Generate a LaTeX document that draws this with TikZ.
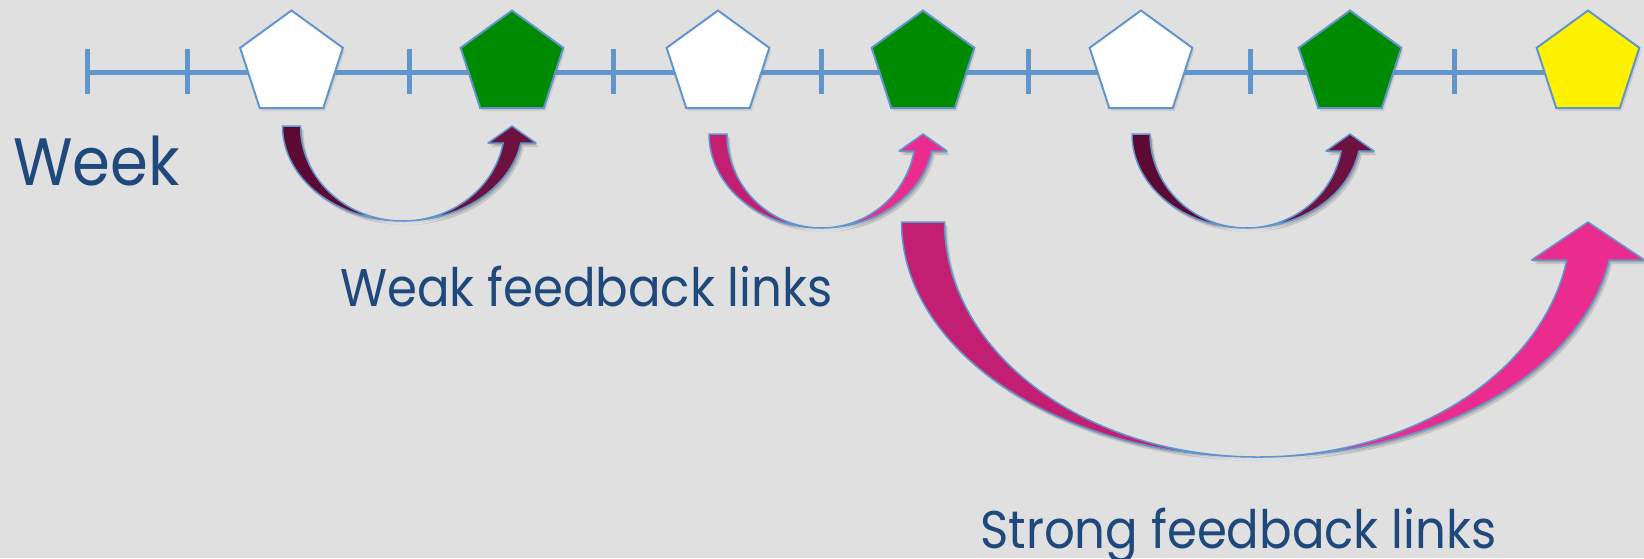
\documentclass[tikz,border=0pt]{standalone}
\usepackage{fontspec}
\setmainfont{Poppins}[FakeStretch=0.91]
\usetikzlibrary{shapes.geometric,backgrounds,shadows}

\definecolor{bg}{RGB}{224,224,224}
\definecolor{tline}{RGB}{96,150,204}
\definecolor{ink}{RGB}{31,73,125}
\definecolor{leaf}{RGB}{0,138,0}
\definecolor{maroonA}{RGB}{92,10,51}
\definecolor{maroonB}{RGB}{109,17,65}
\definecolor{pinkA}{RGB}{195,31,114}
\definecolor{pinkB}{RGB}{235,44,143}

% curved block arrow under the line, from node #1 to node #2
% #3 top, #4 bottom, #5 shaft, #6 head width, #7 head height, #8/#9 fills
\newdimen\fbxa
\newdimen\fbxb
\newcommand\feedback[9]{%
  \pgfextractx{\fbxa}{\pgfpointanchor{#1}{center}}%
  \pgfextractx{\fbxb}{\pgfpointanchor{#2}{center}}%
  \pgfmathsetmacro\fbA{\fbxa}%
  \pgfmathsetmacro\fbB{\fbxb}%
  \pgfmathsetmacro\fbry{#4-#3}%
  \pgfmathsetmacro\fbend{360-asin(#7/\fbry)}%
  \pgfmathsetmacro\fbrm{(\fbB-\fbA)/(1+cos(\fbend))}%
  \pgfmathsetmacro\fbxc{\fbA+\fbrm}%
  \pgfmathsetmacro\fbro{\fbrm+#5/2}%
  \pgfmathsetmacro\fbri{\fbrm-#5/2}%
  \pgfmathsetmacro\fbxi{\fbxc+\fbri*cos(\fbend)}%
  \pgfmathsetmacro\fbyb{-#3-#7}%
  \def\fbshape{(\fbxc-\fbro,-#3)
    arc[start angle=180,end angle=\fbend,x radius=\fbro,y radius=\fbry]
    -- (\fbB+#6/2,\fbyb) -- (\fbB,-#3) -- (\fbB-#6/2,\fbyb) -- (\fbxi,\fbyb)
    arc[start angle=\fbend,end angle=180,x radius=\fbri,y radius=\fbry] -- cycle}%
  \fill[black,opacity=.12,xshift=3pt,yshift=-4pt] \fbshape;
  \fill[black,opacity=.15,xshift=1.5pt,yshift=-2pt] \fbshape;
  \fill[#8] (\fbxc-\fbro,-#3)
    arc[start angle=180,end angle=270,x radius=\fbro,y radius=\fbry]
    arc[start angle=270,end angle=180,x radius=\fbri,y radius=\fbry] -- cycle;
  \fill[#9] (\fbxc,-#3-\fbry)
    arc[start angle=270,end angle=\fbend,x radius=\fbro,y radius=\fbry]
    -- (\fbB+#6/2,\fbyb) -- (\fbB,-#3) -- (\fbB-#6/2,\fbyb) -- (\fbxi,\fbyb)
    arc[start angle=\fbend,end angle=270,x radius=\fbri,y radius=\fbry] -- cycle;
  \draw[tline,line width=1.5pt,line join=round] \fbshape;
}

\begin{document}
\begin{tikzpicture}
[
  x=1pt, y=1pt,
  softshadow/.style={drop shadow={shadow xshift=2pt,shadow yshift=-3pt,opacity=.18}},
  pent/.style={regular polygon, regular polygon sides=5, minimum size=108pt, inner sep=0pt,
    draw=tline, line width=2pt, softshadow},
  tick/.style={tline, line width=5pt},
  lbl/.style={text=ink, font=\fontsize{53}{60}\selectfont, inner sep=0pt, anchor=base west}
]
 \useasboundingbox (0,0) rectangle (1644,-558);

 \node[pent,fill=white] (w1) at (291.5,-64.5) {};
 \node[pent,fill=leaf] (g1) at (512,-64.5) {};
 \node[pent,fill=white] (w2) at (718,-64.5) {};
 \node[pent,fill=leaf] (g2) at (923,-64.5) {};
 \node[pent,fill=white] (w3) at (1141,-64.5) {};
 \node[pent,fill=leaf] (g3) at (1350,-64.5) {};
 \node[pent,fill=yellow] (y1) at (1588,-64.5) {};

 \coordinate (t0) at (87,-72.5);

 \begin{scope}[on background layer]
  \fill[bg] (0,0) rectangle (1644,-558);
  \draw[tick] (t0) -- (t0 -| y1);
  \foreach \t in {87,187,409,613,821,1028,1250,1454}
    \draw[tick] (\t,-49) -- (\t,-94);
 \end{scope}

 \node[lbl,font=\fontsize{67}{70}\selectfont] (week) at (13,-185) {Week};
 \node[lbl] (weak) at (340,-306) {Weak feedback links};
 \node[lbl] (strong) at (980,-548) {Strong feedback links};

 \feedback{w1}{g1}{126}{221}{18}{48}{17}{maroonA}{maroonB}
 \feedback{w2}{g2}{134}{228}{18}{48}{17}{pinkA}{pinkB}
 \feedback{w3}{g3}{134}{228}{18}{48}{17}{maroonA}{maroonB}
 \feedback{g2}{y1}{222}{457}{43}{113}{38}{pinkA}{pinkB}
\end{tikzpicture}
\end{document}
